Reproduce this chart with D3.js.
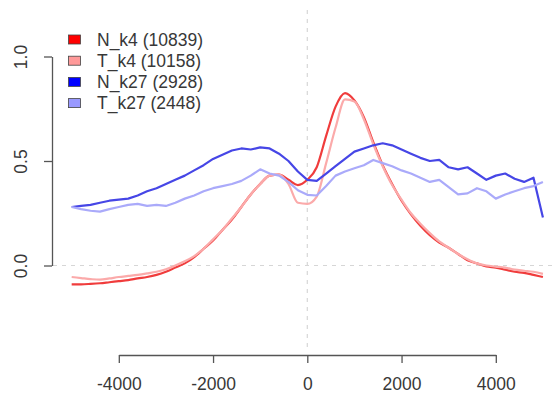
<!DOCTYPE html>
<html>
<head>
<meta charset="utf-8">
<script src="https://cdn.jsdelivr.net/npm/d3@7"></script>
<style>
  html, body { margin: 0; padding: 0; background: #fff; }
  svg { display: block; font-family: "Liberation Sans", Arial, Helvetica, sans-serif; }
</style>
</head>
<body>
<svg id="chart" width="556" height="399"></svg>
<script>
// Distance from feature centre (bp)
const positions = [-5000,-4800,-4600,-4400,-4200,-4000,-3800,-3600,-3400,-3200,-3000,-2800,-2600,-2400,-2200,-2000,-1800,-1600,-1400,-1200,-1000,-800,-600,-400,-200,0,200,400,600,800,1000,1200,1400,1600,1800,2000,2200,2400,2600,2800,3000,3200,3400,3600,3800,4000,4200,4400,4600,4800,5000];

// Mean signal profiles
const nK4  = [-0.09,-0.09,-0.088,-0.085,-0.08,-0.075,-0.07,-0.062,-0.055,-0.045,-0.03,-0.01,0.01,0.04,0.08,0.12,0.17,0.22,0.28,0.34,0.39,0.43,0.435,0.41,0.385,0.41,0.47,0.62,0.76,0.825,0.79,0.71,0.59,0.48,0.39,0.31,0.245,0.19,0.145,0.11,0.085,0.055,0.025,0.01,-0.005,-0.01,-0.02,-0.03,-0.035,-0.045,-0.055];
const tK4  = [-0.055,-0.06,-0.065,-0.068,-0.062,-0.055,-0.05,-0.045,-0.038,-0.03,-0.018,0.0,0.02,0.045,0.08,0.125,0.17,0.225,0.28,0.34,0.39,0.43,0.435,0.39,0.3,0.295,0.33,0.49,0.66,0.795,0.785,0.70,0.58,0.475,0.385,0.315,0.25,0.2,0.155,0.115,0.085,0.055,0.03,0.01,0.0,-0.005,-0.01,-0.02,-0.025,-0.03,-0.04];
const nK27 = [0.28,0.285,0.29,0.30,0.31,0.315,0.32,0.335,0.355,0.37,0.39,0.41,0.43,0.455,0.48,0.51,0.53,0.55,0.56,0.555,0.565,0.56,0.535,0.50,0.45,0.41,0.405,0.44,0.475,0.51,0.545,0.56,0.575,0.585,0.575,0.555,0.535,0.515,0.50,0.505,0.47,0.46,0.47,0.44,0.41,0.43,0.44,0.415,0.40,0.42,0.23];
const tK27 = [0.28,0.27,0.262,0.258,0.27,0.28,0.29,0.295,0.285,0.29,0.285,0.30,0.32,0.335,0.355,0.37,0.38,0.39,0.405,0.43,0.46,0.44,0.43,0.40,0.36,0.338,0.335,0.38,0.43,0.45,0.465,0.48,0.505,0.49,0.475,0.455,0.44,0.42,0.40,0.41,0.375,0.34,0.345,0.37,0.355,0.32,0.34,0.355,0.37,0.38,0.40];

const seriesNames  = ["N_k4 (10839)", "T_k4 (10158)", "N_k27 (2928)", "T_k27 (2448)"];
const seriesValues = [nK4, tK4, nK27, tK27];
const fillColors   = ["#ff0000", "#ff9999", "#0000ff", "#9999ff"];
const lineColors   = ["#f03c3c", "#fbaaaa", "#4646e6", "#aaaafa"];

const xTicks = [-4000, -2000, 0, 2000, 4000];
const yTicks = [0, 0.5, 1.0];

const svg = d3.select("#chart");

const x = d3.scaleLinear().domain([-4000, 4000]).range([118.8, 495.8]);
const y = d3.scaleLinear().domain([0, 1]).range([265.5, 56.5]);

const plotTop = 10, plotBottom = 351, plotLeft = 53, plotRight = 562;

// reference lines at zero
svg.append("line")
  .attr("x1", plotLeft).attr("x2", plotRight)
  .attr("y1", y(0)).attr("y2", y(0))
  .attr("stroke", "#d6d6d6").attr("stroke-width", 1.2).attr("stroke-dasharray", "4,5");
svg.append("line")
  .attr("x1", x(0)).attr("x2", x(0))
  .attr("y1", plotTop).attr("y2", plotBottom)
  .attr("stroke", "#d6d6d6").attr("stroke-width", 1.2).attr("stroke-dasharray", "4,5");

// profile lines: the H3K4 profiles are smooth, the H3K27 ones stay jagged
const smoothLine = d3.line()
  .x((d, i) => x(positions[i]))
  .y(d => y(d))
  .curve(d3.curveMonotoneX);
const rawLine = d3.line()
  .x((d, i) => x(positions[i]))
  .y(d => y(d));

seriesValues.forEach((vals, k) => {
  svg.append("path")
    .datum(vals)
    .attr("d", k < 2 ? smoothLine : rawLine)
    .attr("fill", "none")
    .attr("stroke", lineColors[k])
    .attr("stroke-width", 2.2)
    .attr("stroke-linejoin", "round");
});

// axes
const xAxis = svg.append("g")
  .attr("transform", `translate(0,355)`)
  .call(d3.axisBottom(x).tickValues(xTicks).tickSizeOuter(0).tickSizeInner(8).tickPadding(6).tickFormat(d3.format("d")));
xAxis.select(".domain").attr("stroke", "#555").attr("stroke-width", 1.3);
xAxis.selectAll(".tick line").attr("stroke", "#555").attr("stroke-width", 1.3);
xAxis.selectAll(".tick text")
  .attr("fill", "#383838").attr("font-size", 17.5)
  .attr("y", 35).attr("dy", 0)
  .text(d => (d < 0 ? "-" : "") + Math.abs(d));

const yAxis = svg.append("g")
  .attr("transform", `translate(52,0)`)
  .call(d3.axisLeft(y).tickValues(yTicks).tickSizeOuter(0).tickSizeInner(8).tickFormat(d3.format(".1f")));
yAxis.select(".domain").attr("stroke", "#555").attr("stroke-width", 1.3);
yAxis.selectAll(".tick line").attr("stroke", "#555").attr("stroke-width", 1.3);
yAxis.selectAll(".tick text")
  .attr("fill", "#383838").attr("font-size", 17.5)
  .attr("x", 0).attr("y", 0).attr("dy", 0)
  .attr("text-anchor", "middle")
  .attr("transform", "translate(-25,0) rotate(-90)");

// legend
const legend = svg.append("g").attr("transform", "translate(68,39.5)");
seriesNames.forEach((name, i) => {
  const row = legend.append("g").attr("transform", `translate(0,${i * 21.2})`);
  row.append("rect")
    .attr("x", 0.5).attr("y", -4.5).attr("width", 12).attr("height", 9)
    .attr("fill", fillColors[i]).attr("stroke", "#444").attr("stroke-width", 0.8);
  row.append("text")
    .attr("x", 29).attr("y", 0).attr("dy", "0.36em")
    .attr("fill", "#383838").attr("font-size", 17.5)
    .text(name);
});
</script>
</body>
</html>
